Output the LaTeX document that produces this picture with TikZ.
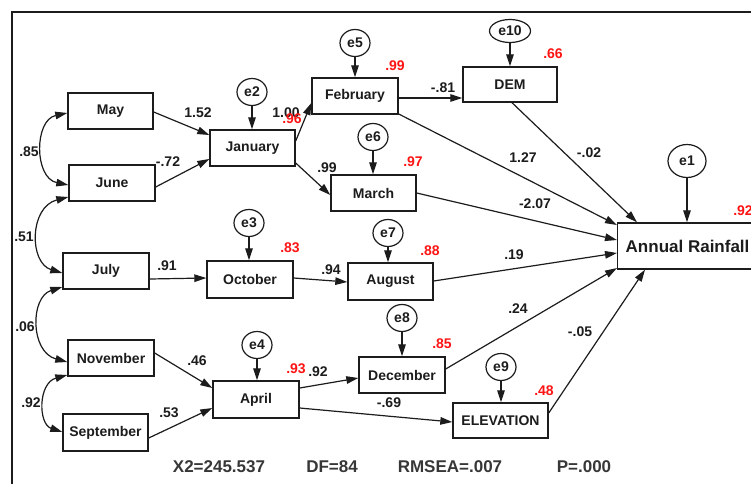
\documentclass[tikz,border=0pt]{standalone}
\usepackage{fontspec}
\setmainfont{Liberation Sans}
\usetikzlibrary{arrows.meta,shapes.geometric}
\definecolor{ink}{RGB}{28,28,28}
\definecolor{statgray}{RGB}{55,55,55}
\definecolor{rsqred}{RGB}{255,20,20}
\begin{document}
\begin{tikzpicture}[x=1pt,y=-1pt,
  lbl/.style={font=\fontsize{14}{16}\selectfont\bfseries, text=ink},
  box/.style={draw=ink, line width=1.4pt, rectangle, minimum height=36pt, inner sep=0pt, lbl},
  err/.style={draw=ink, ellipse, line width=1.2pt, minimum width=30pt, minimum height=27pt, inner sep=0pt, lbl},
  tip/.tip={Triangle[length=12pt,width=7.5pt]},
  link/.style={draw=ink, line width=1.2pt, -tip},
  corr/.style={draw=ink, line width=1.2pt, tip-tip},
  coef/.style={lbl, inner sep=0pt},
  rsq/.style={lbl, text=rsqred, inner sep=0pt},
  stat/.style={font=\fontsize{17}{20}\selectfont\bfseries, text=statgray, inner sep=0pt}]
\clip (0,0) rectangle (751,484);
\fill[white] (0,0) rectangle (751,484);

% frame
\draw[ink, line width=2.5pt] (12,484) -- (12,12) -- (751,12);

% observed variables
\node[box, minimum width=85pt] (may)  at (110.5,111) {May};
\node[box, minimum width=86pt] (june) at (112,183) {June};
\node[box, minimum width=85pt] (jan)  at (252.5,148) {January};
\node[box, minimum width=86pt] (feb)  at (355,96) {February};
\node[box, minimum width=85pt] (mar)  at (373.5,193) {March};
\node[box, minimum width=94pt, minimum height=35pt] (dem) at (510,84.5) {DEM};
\node[box, minimum width=86pt] (jul)  at (106,271) {July};
\node[box, minimum width=86pt, minimum height=37pt] (oct) at (250,279.5) {October};
\node[box, minimum width=85pt, minimum height=37pt] (aug) at (390.5,281.5) {August};
\node[box, minimum width=86pt] (nov)  at (111,358) {November};
\node[box, minimum width=85pt, minimum height=37pt] (sep) at (105.5,432.5) {September};
\node[box, minimum width=86pt, minimum height=37pt] (apr) at (256,399.5) {April};
\node[box, minimum width=86pt] (dec)  at (402,375) {December};
\node[box, minimum width=95pt, minimum height=35pt] (elev) at (500.5,420.5) {ELEVATION};
\node[box, font=\fontsize{17}{20}\selectfont\bfseries, anchor=west,
      minimum height=46pt, inner xsep=8pt] (ar) at (617,246) {Annual Rainfall};

% error terms
\node[err] (e2)  at (252,92)  {e2};
\node[err] (e5)  at (355,43)  {e5};
\node[err] (e6)  at (373,137) {e6};
\node[err, minimum width=41pt, minimum height=23pt] (e10) at (510,31) {e10};
\node[err, minimum width=38pt, minimum height=33pt] (e1)  at (687,161) {e1};
\node[err] (e3)  at (249,223) {e3};
\node[err] (e7)  at (388,233) {e7};
\node[err] (e4)  at (257,345) {e4};
\node[err] (e8)  at (402,318) {e8};
\node[err] (e9)  at (501,367) {e9};

% error paths
\draw[link] (e2.south)  -- (e2.south |- jan.north);
\draw[link] (e5.south)  -- (e5.south |- feb.north);
\draw[link] (e6.south)  -- (e6.south |- mar.north);
\draw[link] (e10.south) -- (e10.south |- dem.north);
\draw[link] (e1.south)  -- (e1.south |- ar.north);
\draw[link] (e3.south)  -- (e3.south |- oct.north);
\draw[link] (e7.south)  -- (e7.south |- aug.north);
\draw[link] (e4.south)  -- (e4.south |- apr.north);
\draw[link] (e8.south)  -- (e8.south |- dec.north);
\draw[link] (e9.south)  -- (e9.south |- elev.north);

% regression paths
\draw[link] (may.east |- 0,112)  -- (jan.west |- 0,135);
\draw[link] (june.east |- 0,187) -- (jan.west |- 0,159);
\draw[link] (jan.east |- 0,141)  -- (feb.west |- 0,103);
\draw[link] (jan.east |- 0,163)  -- (mar.west |- 0,195);
\draw[link] (feb.east |- 0,98)   -- (dem.west |- 0,98);
\draw[link] (feb.east |- 0,114)  -- (ar.west |- 0,225);
\draw[link] (dem.south -| 512,0) -- (ar.north -| 637,0);
\draw[link] (mar.east |- 0,193)  -- (ar.west |- 0,240);
\draw[link] (aug.east |- 0,281)  -- (ar.west |- 0,253);
\draw[link] (dec.east |- 0,369)  -- (ar.west |- 0,268);
\draw[link] (elev.east |- 0,413) -- (ar.south -| 645,0);
\draw[link] (jul.east |- 0,279)  -- (oct.west |- 0,278);
\draw[link] (oct.east |- 0,278)  -- (aug.west |- 0,282);
\draw[link] (nov.east |- 0,353)  -- (apr.west |- 0,388);
\draw[link] (sep.east |- 0,438)  -- (apr.west |- 0,408);
\draw[link] (apr.east |- 0,388)  -- (dec.west |- 0,378);
\draw[link] (apr.east |- 0,408)  -- (elev.west |- 0,422);

% covariances
\draw[corr] (may.west |- 0,113) .. controls (34,120) and (34,178) .. (june.west |- 0,185);
\draw[corr] (june.west |- 0,197) .. controls (29,207) and (29,263) .. (jul.west |- 0,273);
\draw[corr] (jul.west |- 0,287) .. controls (30,297) and (30,352) .. (nov.west |- 0,362);
\draw[corr] (nov.west |- 0,375) .. controls (38,383) and (38,424) .. (sep.west |- 0,432);

% coefficients
\node[coef] (k85)  at (29,152)  {.85};
\node[coef] (k51)  at (24,237)  {.51};
\node[coef] (k06)  at (25,327)  {.06};
\node[coef] (k92a) at (31,403)  {.92};
\node[coef] (k152) at (198,113) {1.52};
\node[coef] (k72)  at (168,162) {-.72};
\node[coef] (k100) at (286,113) {1.00};
\node[coef] (k99)  at (327,168) {.99};
\node[coef] (k81)  at (443,88)  {-.81};
\node[coef] (k127) at (523,158) {1.27};
\node[coef] (k02)  at (589,153) {-.02};
\node[coef] (k207) at (535,204) {-2.07};
\node[coef] (k91)  at (167,266) {.91};
\node[coef] (k94)  at (331,270) {.94};
\node[coef] (k19)  at (514,255) {.19};
\node[coef] (k24)  at (518,309) {.24};
\node[coef] (k05)  at (580,332) {-.05};
\node[coef] (k46)  at (197,361) {.46};
\node[coef] (k53)  at (169,413) {.53};
\node[coef] (k92b) at (318,372) {.92};
\node[coef] (k69)  at (389,403) {-.69};

% squared multiple correlations
\node[rsq] (r96) at (292,119) {.96};
\node[rsq] (r99) at (395,66)  {.99};
\node[rsq] (r66) at (553,54)  {.66};
\node[rsq] (r97) at (413,162) {.97};
\node[rsq] (r92) at (743,211) {.92};
\node[rsq] (r83) at (290,248) {.83};
\node[rsq] (r88) at (430,251) {.88};
\node[rsq] (r85) at (442,344) {.85};
\node[rsq] (r93) at (296,369) {.93};
\node[rsq] (r48) at (544,391) {.48};

% fit statistics
\node[stat] (chi)   at (219,467) {X2=245.537};
\node[stat] (df)    at (332,467) {DF=84};
\node[stat] (rmsea) at (450,467) {RMSEA=.007};
\node[stat] (pval)  at (584,467) {P=.000};
\end{tikzpicture}
\end{document}
